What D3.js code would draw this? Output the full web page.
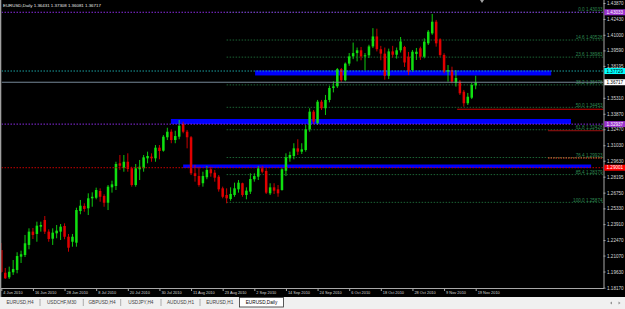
<!DOCTYPE html>
<html>
<head>
<meta charset="utf-8">
<script src="https://cdn.jsdelivr.net/npm/d3@7"></script>
<style>
  html, body { margin: 0; padding: 0; background: #000; }
  svg { display: block; font-family: "Liberation Sans", Arial, sans-serif; }
</style>
</head>
<body>
<svg id="chart"></svg>
<script>
// EURUSD daily, 4 Jun 2010 .. 19 Nov 2010 (bar index 0..120)
const open = [1.2157,1.1952,1.1911,1.1956,1.1977,1.2097,1.2112,1.2203,1.2323,1.2302,
  1.2368,1.2428,1.2323,1.2259,1.2308,1.2323,1.2374,1.2277,1.2232,1.2223,
  1.2509,1.2555,1.2534,1.2624,1.2629,1.2690,1.2645,1.2584,1.2723,1.2735,
  1.2940,1.2900,1.2954,1.2895,1.2744,1.2886,1.2895,1.2985,1.3000,1.2985,
  1.3081,1.3054,1.3175,1.3225,1.3150,1.3180,1.3295,1.3225,1.3175,1.2850,
  1.2825,1.2760,1.2814,1.2886,1.2855,1.2819,1.2714,1.2654,1.2618,1.2654,
  1.2705,1.2760,1.2654,1.2684,1.2796,1.2819,1.2895,1.2871,1.2669,1.2723,
  1.2705,1.2699,1.2873,1.2985,1.3006,1.3075,1.3045,1.3060,1.3247,1.3406,
  1.3301,1.3496,1.3437,1.3512,1.3620,1.3635,1.3790,1.3690,1.3840,1.3905,
  1.3935,1.3960,1.3905,1.3915,1.3995,1.4085,1.3970,1.3930,1.3730,1.3950,
  1.3920,1.3960,1.3990,1.3902,1.3782,1.3927,1.3978,1.3902,1.4023,1.4113,
  1.4218,1.4059,1.3918,1.3767,1.3782,1.3665,1.3677,1.3586,1.3482,1.3532,
  1.36431];
const high = [1.2221,1.1995,1.2007,1.2067,1.2137,1.2151,1.2293,1.2353,1.2356,1.2413,
  1.2413,1.2464,1.2344,1.2353,1.2383,1.2392,1.2398,1.2302,1.2302,1.2539,
  1.2609,1.2579,1.2669,1.2678,1.2720,1.2714,1.2660,1.2744,1.2783,1.2954,
  1.3015,1.3015,1.3030,1.2909,1.2934,1.2970,1.3015,1.3045,1.3030,1.3105,
  1.3105,1.3195,1.3261,1.3247,1.3234,1.3331,1.3315,1.3241,1.3186,1.2925,
  1.2909,1.2864,1.2916,1.2909,1.2880,1.2834,1.2729,1.2714,1.2723,1.2765,
  1.2789,1.2765,1.2723,1.2850,1.2850,1.2916,1.2916,1.2895,1.2760,1.2760,
  1.2744,1.2895,1.3030,1.3045,1.3121,1.3157,1.3121,1.3286,1.3437,1.3421,
  1.3512,1.3512,1.3557,1.3640,1.3680,1.3800,1.3800,1.3850,1.3935,1.4030,
  1.3985,1.3990,1.3935,1.4010,1.4160,1.4155,1.4000,1.3985,1.3975,1.4000,
  1.3985,1.4080,1.4000,1.3945,1.3963,1.3981,1.3993,1.4068,1.4143,1.4288,
  1.4234,1.4068,1.3933,1.3827,1.3812,1.3782,1.3692,1.3602,1.3575,1.3665,
  1.37308];
const low = [1.1950,1.1896,1.1896,1.1932,1.1947,1.2040,1.2094,1.2164,1.2257,1.2232,
  1.2323,1.2302,1.2232,1.2203,1.2263,1.2248,1.2254,1.2142,1.2187,1.2187,
  1.2480,1.2503,1.2473,1.2548,1.2615,1.2593,1.2548,1.2518,1.2675,1.2699,
  1.2880,1.2864,1.2864,1.2729,1.2729,1.2789,1.2864,1.2940,1.2954,1.2954,
  1.2976,1.3045,1.3150,1.3121,1.3121,1.3157,1.3211,1.3075,1.2834,1.2774,
  1.2729,1.2729,1.2796,1.2819,1.2774,1.2684,1.2624,1.2579,1.2602,1.2638,
  1.2675,1.2638,1.2615,1.2663,1.2774,1.2789,1.2850,1.2663,1.2654,1.2663,
  1.2638,1.2693,1.2825,1.2954,1.2976,1.3015,1.3024,1.3045,1.3225,1.3295,
  1.3286,1.3421,1.3376,1.3490,1.3580,1.3620,1.3675,1.3680,1.3820,1.3880,
  1.3860,1.3870,1.3780,1.3890,1.3980,1.3950,1.3870,1.3695,1.3700,1.3895,
  1.3885,1.3940,1.3810,1.3737,1.3767,1.3873,1.3873,1.3888,1.4008,1.4100,
  1.3993,1.3902,1.3752,1.3677,1.3662,1.3632,1.3557,1.3451,1.3466,1.3520,
  1.36081];
const close = [1.1959,1.1902,1.1961,1.1986,1.2103,1.2119,1.2218,1.2323,1.2293,1.2377,
  1.2383,1.2323,1.2257,1.2314,1.2332,1.2368,1.2277,1.2178,1.2277,1.2518,
  1.2557,1.2528,1.2624,1.2638,1.2699,1.2638,1.2584,1.2729,1.2750,1.2934,
  1.2918,1.2954,1.2889,1.2744,1.2895,1.2909,1.2994,1.3006,1.2985,1.3081,
  1.3051,1.3180,1.3225,1.3150,1.3186,1.3279,1.3225,1.3175,1.2850,1.2825,
  1.2744,1.2825,1.2880,1.2850,1.2810,1.2705,1.2638,1.2624,1.2663,1.2714,
  1.2765,1.2654,1.2693,1.2798,1.2825,1.2895,1.2864,1.2675,1.2723,1.2693,
  1.2669,1.2886,1.2994,1.3015,1.3075,1.3045,1.3066,1.3247,1.3406,1.3316,
  1.3496,1.3437,1.3512,1.3620,1.3635,1.3790,1.3690,1.3840,1.3905,1.3935,
  1.3960,1.3905,1.3915,1.3995,1.4085,1.3970,1.3930,1.3730,1.3950,1.3920,
  1.3960,1.4040,1.3850,1.3767,1.3947,1.3947,1.3902,1.4038,1.4128,1.4218,
  1.4023,1.3918,1.3767,1.3782,1.3677,1.3710,1.3572,1.3482,1.3541,1.3647,
  1.36717];

const dateIdx = [0, 8, 16, 24, 32, 40, 48, 56, 64, 72, 80, 88, 96, 104, 112, 120];
const dateLabels = ["4 Jun 2010", "16 Jun 2010", "28 Jun 2010", "8 Jul 2010", "20 Jul 2010",
  "30 Jul 2010", "11 Aug 2010", "23 Aug 2010", "2 Sep 2010", "14 Sep 2010", "24 Sep 2010",
  "6 Oct 2010", "18 Oct 2010", "28 Oct 2010", "9 Nov 2010", "19 Nov 2010"];

const priceTicks = [1.4387, 1.4243, 1.4100, 1.3959, 1.38195, 1.3531, 1.3387, 1.3247,
  1.3103, 1.2963, 1.28195, 1.2675, 1.2533, 1.2391, 1.2247, 1.2107, 1.1963, 1.1817];

// fibonacci retracement (from the 25 Aug low to the 4 Nov high)
const fiboPct = ["0.0", "14.6", "23.6", "38.2", "50.0", "61.8", "76.4", "85.4", "100.0"];
const fiboPrice = [1.43033, 1.40528, 1.38983, 1.36478, 1.34453, 1.32428, 1.29923, 1.28379, 1.25874];
const fiboStart = 57;

// horizontal lines across the chart: price, colour, dash, label box colour, label text colour
const hLines = [
  { p: 1.43033, c: "#8a2be2", dash: "1.5,1.5", box: "#9932cc", txt: "#ffffff" },
  { p: 1.37729, c: "#1aa3a3", dash: "1.5,1.5", box: "#00ffff", txt: "#000000" },
  { p: 1.36717, c: "#778899", dash: null, box: "#ffffff", txt: "#000000" },
  { p: 1.32937, c: "#8a2be2", dash: "1.5,1.5", box: "#9932cc", txt: "#ffffff" },
  { p: 1.29001, c: "#c80000", dash: "1.5,1.5", box: "#ff0000", txt: "#ffffff" },
];

// short red levels on the right
const segs = [
  { p: 1.3428, from: 115.3, c: "#d00000", dash: null },
  { p: 1.3234, from: 138.3, c: "#9a1010", dash: null },
  { p: 1.2988, from: 138.3, c: "#ff5a30", dash: "1.5,1" },
];

// blue zones: from/to bar index, top/bottom price
const zones = [
  { i0: 64.2, i1: 139.1, top: 1.3778, bot: 1.3733 },
  { i0: 42.9, i1: 144.1, top: 1.3340, bot: 1.3295 },
  { i0: 46.0, i1: 149.2, top: 1.2929, bot: 1.2897 },
];

const tabs = ["EURUSD,H4", "USDCHF,M30", "GBPUSD,H4", "USDJPY,H4", "AUDUSD,H1", "EURUSD,H1", "EURUSD,Daily"];
const tabEdges = [0, 40, 83.3, 120.7, 161, 200, 239.5, 283.5];

const width = 625, height = 309;
const plotRight = 603.5, plotBottom = 288;

const svg = d3.select("#chart").attr("width", width).attr("height", height);
svg.append("rect").attr("width", width).attr("height", height).attr("fill", "#000");

const x = d3.scaleLinear().domain([0, 120]).range([1.3, 475.7]);
const y = d3.scaleLinear().domain([1.1817, 1.4387]).range([287.7, 3]);

svg.append("clipPath").attr("id", "plot")
  .append("rect").attr("x", 1.5).attr("y", 0).attr("width", plotRight - 1.5).attr("height", plotBottom);

const plot = svg.append("g").attr("clip-path", "url(#plot)");

// zones go behind bars
plot.selectAll("rect.zone").data(zones).join("rect")
  .attr("class", "zone")
  .attr("x", d => x(d.i0))
  .attr("width", d => x(d.i1) - x(d.i0))
  .attr("y", d => y(d.top))
  .attr("height", d => y(d.bot) - y(d.top))
  .attr("fill", "#0000ff");

// fibo levels
plot.selectAll("line.fibo").data(fiboPrice).join("line")
  .attr("class", "fibo")
  .attr("x1", x(fiboStart)).attr("x2", plotRight)
  .attr("y1", d => y(d)).attr("y2", d => y(d))
  .attr("stroke", "#1f6e3a").attr("stroke-width", 0.9)
  .attr("stroke-dasharray", "1.5,1.5");

plot.selectAll("text.fibo").data(fiboPrice).join("text")
  .attr("class", "fibo")
  .attr("x", plotRight - 1).attr("y", d => y(d) - 0.8)
  .attr("text-anchor", "end")
  .attr("font-size", 4.6).attr("fill", "#2f8a52")
  .text((d, i) => fiboPct[i] + " " + d.toFixed(5));

// candles
const bars = d3.range(open.length);
const up = i => close[i] >= open[i];
plot.selectAll("line.wick").data(bars).join("line")
  .attr("class", "wick")
  .attr("x1", i => x(i)).attr("x2", i => x(i))
  .attr("y1", i => y(high[i])).attr("y2", i => y(low[i]))
  .attr("stroke", i => up(i) ? "#10e010" : "#e00000")
  .attr("stroke-width", 0.9);

plot.selectAll("rect.body").data(bars).join("rect")
  .attr("class", "body")
  .attr("x", i => x(i) - 1.25).attr("width", 2.5)
  .attr("y", i => y(Math.max(open[i], close[i])))
  .attr("height", i => Math.max(0.8, Math.abs(y(open[i]) - y(close[i]))))
  .attr("fill", i => up(i) ? "#10e010" : "#e00000");

// full width lines
plot.selectAll("line.h").data(hLines).join("line")
  .attr("class", "h")
  .attr("x1", 1.5).attr("x2", plotRight)
  .attr("y1", d => y(d.p)).attr("y2", d => y(d.p))
  .attr("stroke", d => d.c).attr("stroke-width", 1)
  .attr("stroke-dasharray", d => d.dash);

plot.selectAll("line.seg").data(segs).join("line")
  .attr("class", "seg")
  .attr("x1", d => x(d.from)).attr("x2", plotRight)
  .attr("y1", d => y(d.p)).attr("y2", d => y(d.p))
  .attr("stroke", d => d.c).attr("stroke-width", 1)
  .attr("stroke-dasharray", d => d.dash);

// chart shift marker
svg.append("path").attr("d", "M480,0 L484,0 L482,3 Z").attr("fill", "#a0a0a0");

// price axis
const yAxis = svg.append("g")
  .attr("transform", `translate(${plotRight},0)`)
  .call(d3.axisRight(y).tickValues(priceTicks).tickSize(2).tickPadding(1.5)
    .tickFormat(d3.format(".5f")));
yAxis.select(".domain").attr("stroke", "#a8a8a8").attr("d", `M0.5,0V${plotBottom}`);
yAxis.selectAll(".tick line").attr("stroke", "#a8a8a8");
yAxis.selectAll(".tick text").attr("fill", "#d8d8d8").attr("font-size", 4.6)
  .attr("font-family", "Liberation Sans, Arial, sans-serif");

// highlighted price labels
const boxes = svg.append("g");
boxes.selectAll("rect").data(hLines).join("rect")
  .attr("x", plotRight + 0.8).attr("width", width - plotRight)
  .attr("y", d => y(d.p) - 3).attr("height", 6)
  .attr("fill", d => d.box);
boxes.selectAll("text").data(hLines).join("text")
  .attr("x", plotRight + 3).attr("y", d => y(d.p))
  .attr("dy", "0.35em")
  .attr("font-size", 4.6)
  .attr("fill", d => d.txt)
  .text(d => d.p.toFixed(5));

// date axis
const xAxis = svg.append("g")
  .attr("transform", `translate(0,${plotBottom})`)
  .call(d3.axisBottom(x).tickValues(dateIdx).tickSize(3)
    .tickFormat((d, i) => dateLabels[i]));
xAxis.select(".domain").remove();
xAxis.selectAll(".tick line").attr("stroke", "#a8a8a8");
xAxis.selectAll(".tick text")
  .attr("text-anchor", "start").attr("x", 1.5).attr("y", 4.3).attr("dy", "0.35em")
  .attr("fill", "#d8d8d8").attr("font-size", 3.9)
  .attr("font-family", "Liberation Sans, Arial, sans-serif");
svg.append("line")
  .attr("x1", 0).attr("x2", plotRight + 0.5)
  .attr("y1", plotBottom + 0.5).attr("y2", plotBottom + 0.5)
  .attr("stroke", "#a8a8a8");

// left frame
svg.append("rect").attr("x", 0).attr("y", 0).attr("width", 1.3).attr("height", 297).attr("fill", "#a0a0a0");

// header
svg.append("text")
  .attr("x", 3).attr("y", 6.5)
  .attr("font-size", 4.4).attr("fill", "#e8e8e8")
  .text("EURUSD,Daily  1.36431 1.37308 1.36081 1.36717");

// tab bar
const tabBar = svg.append("g");
tabBar.append("rect").attr("x", 0).attr("y", 297).attr("width", width).attr("height", 12).attr("fill", "#f0f0f0");
tabBar.append("rect")
  .attr("x", tabEdges[6]).attr("y", 297.5)
  .attr("width", tabEdges[7] - tabEdges[6]).attr("height", 9.5)
  .attr("fill", "#ffffff").attr("stroke", "#303030").attr("stroke-width", 0.8);
tabBar.selectAll("line").data(tabEdges.slice(1, 6)).join("line")
  .attr("x1", d => d).attr("x2", d => d)
  .attr("y1", 299).attr("y2", 306)
  .attr("stroke", "#9a9a9a").attr("stroke-width", 0.8);
tabBar.selectAll("text").data(tabs).join("text")
  .attr("x", (d, i) => (tabEdges[i] + tabEdges[i + 1]) / 2)
  .attr("y", 302.5).attr("dy", "0.35em")
  .attr("text-anchor", "middle")
  .attr("font-size", 4.7)
  .attr("fill", (d, i) => i === 6 ? "#000" : "#404040")
  .text(d => d);
tabBar.append("path").attr("d", "M612,301.5 L612,304.5 L610,303 Z").attr("fill", "#909090");
tabBar.append("path").attr("d", "M618.5,301.5 L618.5,304.5 L620.5,303 Z").attr("fill", "#909090");
</script>
</body>
</html>
